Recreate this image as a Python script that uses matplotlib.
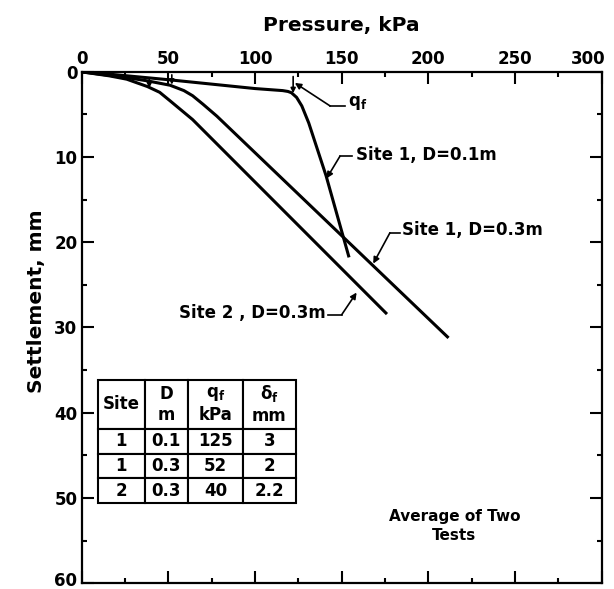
import numpy as np
import matplotlib.pyplot as plt
import matplotlib.transforms as mtransforms

# load-settlement curves (pressure kPa, settlement mm)
p_s1_01 = [0, 16, 51, 100, 116, 119, 121, 124, 127, 131, 141, 154]
s_s1_01 = [0, 0.27, 0.94, 1.96, 2.2, 2.3, 2.45, 3.0, 4.0, 6.0, 12.2, 21.6]

p_s1_03 = [0, 26, 38, 51, 59, 64, 70, 78, 211]
s_s1_03 = [0, 0.67, 1.06, 1.57, 2.2, 2.8, 3.8, 5.2, 31.1]

p_s2_03 = [0, 16, 26, 38, 45, 51, 64, 175.5]
s_s2_03 = [0, 0.47, 0.86, 1.73, 2.4, 3.4, 5.6, 28.3]

# failure marks on the curves
qf_mark_p = [122, 52, 39]
qf_mark_top = [0.55, 0.35, 0.7]
qf_mark_bot = [2.5, 1.5, 1.9]

# table
col_labels = ['Site', 'D\nm', 'q$_f$\nkPa', '$\\delta_f$\nmm']
sites = ['1', '1', '2']
D_m = ['0.1', '0.3', '0.3']
qf_kpa = ['125', '52', '40']
df_mm = ['3', '2', '2.2']

xticks = [0, 50, 100, 150, 200, 250, 300]
yticks = [0, 10, 20, 30, 40, 50, 60]

plt.rcParams['font.family'] = ['DejaVu Sans']
plt.rcParams['mathtext.fontset'] = 'dejavusans'
plt.rcParams['mathtext.default'] = 'bf'

fig = plt.figure(figsize=(6.14, 5.89), dpi=100)
ax = fig.add_axes([0.133, 0.010, 0.847, 0.868])

lw = 2.2
ax.plot(p_s1_01, s_s1_01, color='k', lw=lw, solid_joinstyle='round')
ax.plot(p_s1_03, s_s1_03, color='k', lw=lw, solid_joinstyle='round')
ax.plot(p_s2_03, s_s2_03, color='k', lw=lw, solid_joinstyle='round')

for x, y0, y1 in zip(qf_mark_p, qf_mark_top, qf_mark_bot):
    ax.annotate('', xy=(x, y1), xytext=(x, y0),
                arrowprops=dict(arrowstyle='-|>', color='k', lw=1.2,
                                mutation_scale=7, shrinkA=0, shrinkB=0))

ax.set_xlim(0, 300)
ax.set_ylim(60, 0)
ax.set_xticks(xticks)
ax.set_yticks(yticks)
ax.set_xticks(np.arange(25, 300, 50), minor=True)
ax.set_yticks(np.arange(5, 60, 10), minor=True)
ax.tick_params(which='both', direction='in', top=True, bottom=True,
               left=True, right=True, labeltop=True, labelbottom=False,
               width=1.5, labelsize=12, pad=3)
ax.tick_params(which='major', length=8.5)
ax.tick_params(which='minor', length=3.5)
for lab in ax.get_xticklabels() + ax.get_yticklabels():
    lab.set_fontweight('bold')
for sp in ax.spines.values():
    sp.set_linewidth(1.6)

# hand-lettered labels sit a little off the end ticks
xlabs = ax.get_xticklabels(which='major')
xlabs[-1].set_transform(xlabs[-1].get_transform() +
                        mtransforms.ScaledTranslation(-10 / 72, 0, fig.dpi_scale_trans))
ylabs = ax.get_yticklabels(which='major')
ylabs[-1].set_transform(ylabs[-1].get_transform() +
                        mtransforms.ScaledTranslation(0, 3 / 72, fig.dpi_scale_trans))

fig.text(341 / 614, 1 - 25 / 589, 'Pressure, kPa', ha='center', va='center',
         fontsize=14.5, fontweight='bold')
fig.text(37 / 614, 0.489, 'Settlement, mm', ha='center', va='center',
         rotation=90, fontsize=14.5, fontweight='bold')

# leaders and curve labels
def leader(text, tip, corner, end, tx, ty, ha='left'):
    ax.plot([corner[0], end[0]], [corner[1], end[1]], color='k', lw=1.2)
    ax.annotate('', xy=tip, xytext=corner,
                arrowprops=dict(arrowstyle='-|>', color='k', lw=1.2,
                                mutation_scale=9, shrinkA=0, shrinkB=0))
    ax.text(tx, ty, text, ha=ha, va='center', fontsize=12, fontweight='bold')

leader('q$_f$', (123, 1.3), (143.3, 4.0), (151.9, 4.0), 153.5, 3.6)
leader('Site 1, D=0.1m', (141.3, 12.5), (149, 9.9), (156, 9.9), 158.5, 9.8)
leader('Site 1, D=0.3m', (168.2, 22.5), (177.8, 18.9), (183.5, 18.9), 185.0, 18.6)
leader('Site 2 , D=0.3m', (158.6, 25.9), (150.0, 28.5), (142.2, 28.5), 141.0, 28.3,
       ha='right')

ax.text(215, 53.3, 'Average of Two\nTests', ha='center', va='center',
        fontsize=11, fontweight='bold', linespacing=1.3)

cells = [list(r) for r in zip(sites, D_m, qf_kpa, df_mm)]
tab = ax.table(cellText=cells, colLabels=col_labels, cellLoc='center',
               colWidths=[47, 43, 55, 53],
               bbox=[0.031, 0.157, 0.381, 0.241])
tab.auto_set_font_size(False)
tab.set_fontsize(12)
for (r, c), cell in tab.get_celld().items():
    cell.set_linewidth(1.5)
    cell.set_height(0.10 if r == 0 else 0.05)
    cell.get_text().set_fontweight('bold')

fig.savefig('out.png', dpi=100)
